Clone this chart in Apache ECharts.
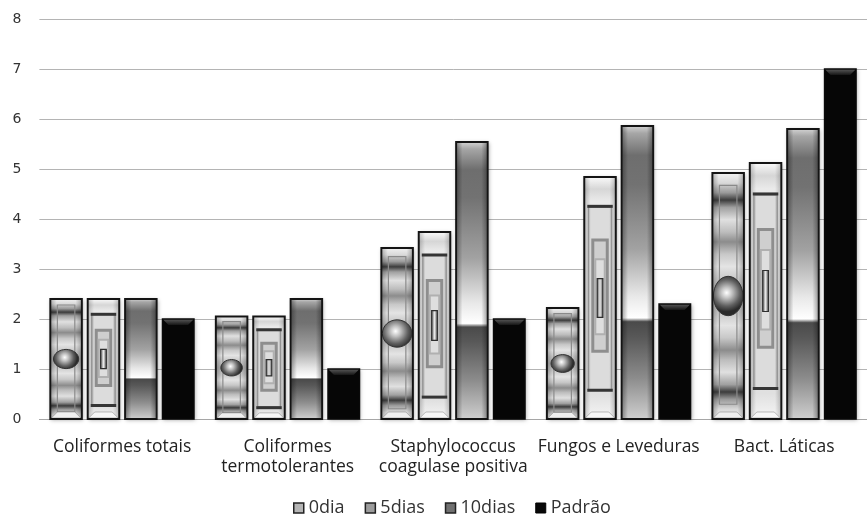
<!DOCTYPE html>
<html>
<head>
<meta charset="utf-8">
<script src="https://cdn.jsdelivr.net/npm/echarts@6/dist/echarts.min.js"></script>
<style>
  html, body { margin: 0; padding: 0; background: #ffffff; }
  #chart { width: 867px; height: 517px; }
</style>
</head>
<body>
<div id="chart"></div>
<script>
// Microbiological counts per group and storage time
const categories = [
  'Coliformes totais',
  'Coliformes\ntermotolerantes',
  'Staphylococcus\ncoagulase positiva',
  'Fungos e Leveduras',
  'Bact. Láticas'
];
const seriesNames = ['0dia', '5dias', '10dias', 'Padrão'];
const dia0   = [2.4, 2.05, 3.42, 2.22, 4.92];
const dias5  = [2.4, 2.05, 3.74, 4.84, 5.12];
const dias10 = [2.4, 2.4, 5.54, 5.86, 5.8];
const padrao = [2, 1, 2, 2.3, 7];
const yMin = 0, yMax = 8, yStep = 1;

const G = echarts.graphic;
const BAR_FRAC = 32 / 168.25;   // bar width as share of the category band
const STEP_FRAC = 38 / 168.25;  // distance between neighbouring bars
const SHADOW = { shadowBlur: 4, shadowColor: 'rgba(0,0,0,0.35)', shadowOffsetX: 1, shadowOffsetY: 1 };

function stops(list) {
  return list.map(function (s) { return { offset: s[0], color: s[1] }; });
}

function sideShade(x, y, w, h, a) {
  return {
    type: 'rect', shape: { x: x + 1, y: y + 1, width: w - 2, height: h - 2 },
    style: { fill: new G.LinearGradient(0, 0, 1, 0, stops([
      [0, 'rgba(0,0,0,' + a + ')'], [0.18, 'rgba(0,0,0,0)'],
      [0.82, 'rgba(0,0,0,0)'], [1, 'rgba(0,0,0,' + a + ')']
    ])) }, silent: true
  };
}

function outline(x, y, w, h) {
  return { type: 'rect', shape: { x: x, y: y, width: w, height: h },
    style: { fill: 'none', stroke: '#141414', lineWidth: 2 } };
}

function bottomBevel(x, y, w, h, fill) {
  const d = Math.min(6, h * 0.05);
  return { type: 'polygon', shape: { points: [
      [x + 1, y + h - 1], [x + w - 1, y + h - 1], [x + w - 1 - d, y + h - 1 - d], [x + 1 + d, y + h - 1 - d]
    ] }, style: { fill: fill, stroke: 'rgba(120,120,120,0.6)', lineWidth: 0.8 } };
}

// 0dia: concentric elliptical bands with a glossy oval in the middle
function paintDia0(x, y, w, h) {
  const fill = new G.LinearGradient(0, 0, 0, 1, stops([
    [0, '#f2f2f2'], [0.04, '#d9d9d9'], [0.08, '#9a9a9a'], [0.11, '#3c3c3c'], [0.14, '#a0a0a0'],
    [0.19, '#e0e0e0'], [0.24, '#bdbdbd'], [0.28, '#8c8c8c'], [0.33, '#c8c8c8'], [0.38, '#e4e4e4'],
    [0.44, '#c4c4c4'], [0.5, '#b4b4b4'], [0.56, '#c4c4c4'], [0.62, '#e4e4e4'], [0.67, '#c8c8c8'],
    [0.72, '#8c8c8c'], [0.76, '#bdbdbd'], [0.81, '#e0e0e0'], [0.86, '#a0a0a0'], [0.89, '#3c3c3c'],
    [0.92, '#9a9a9a'], [0.96, '#d9d9d9'], [1, '#f2f2f2']
  ]));
  const rx = Math.min(h * 0.105, w / 2 - 1);
  const ry = h * 0.08;
  return [
    { type: 'rect', shape: { x: x, y: y, width: w, height: h }, style: Object.assign({ fill: fill }, SHADOW) },
    sideShade(x, y, w, h, 0.22),
    { type: 'rect', shape: { x: x + 7, y: y + h * 0.05, width: w - 14, height: h * 0.89 },
      style: { fill: 'none', stroke: '#8a8a8a', lineWidth: 1.2 } },
    bottomBevel(x, y, w, h, '#efefef'),
    { type: 'ellipse', shape: { cx: x + w / 2, cy: y + h * 0.5, rx: rx, ry: ry },
      style: { fill: new G.RadialGradient(0.45, 0.42, 0.62, stops([
        [0, '#ffffff'], [0.3, '#c0c0c0'], [0.7, '#606060'], [1, '#2a2a2a']
      ])), stroke: '#333333', lineWidth: 1 } },
    outline(x, y, w, h)
  ];
}

// 5dias: nested rectangular frames around a small centre slot
function paint5dias(x, y, w, h) {
  const fill = new G.LinearGradient(0, 0, 0, 1, stops([
    [0, '#fafafa'], [0.05, '#d6d6d6'], [0.1, '#eaeaea'], [0.9, '#e0e0e0'], [1, '#f6f6f6']
  ]));
  const innerFill = new G.LinearGradient(0, 0, 1, 0, stops([
    [0, '#9a9a9a'], [0.12, '#dcdcdc'], [0.88, '#dcdcdc'], [1, '#9a9a9a']
  ]));
  const cw = Math.max(5, w * 0.18);
  const ch = h * 0.16;
  return [
    { type: 'rect', shape: { x: x, y: y, width: w, height: h }, style: Object.assign({ fill: fill }, SHADOW) },
    sideShade(x, y, w, h, 0.18),
    { type: 'rect', shape: { x: x + 4, y: y + h * 0.125, width: w - 8, height: h * 0.755 },
      style: { fill: innerFill, stroke: '#8a8a8a', lineWidth: 1 } },
    { type: 'rect', shape: { x: x + 3, y: y + h * 0.115, width: w - 6, height: 3 }, style: { fill: '#353535' } },
    { type: 'rect', shape: { x: x + 3, y: y + h * 0.875, width: w - 6, height: 3 }, style: { fill: '#353535' } },
    { type: 'rect', shape: { x: x + 8.5, y: y + h * 0.26, width: w - 17, height: h * 0.46 },
      style: { fill: '#cfcfcf', stroke: '#8e8e8e', lineWidth: 3 } },
    { type: 'rect', shape: { x: x + 11, y: y + h * 0.34, width: w - 22, height: h * 0.31 },
      style: { fill: '#dedede', stroke: '#b0b0b0', lineWidth: 2 } },
    { type: 'rect', shape: { x: x + w / 2 - cw / 2, y: y + h * 0.5 - ch / 2, width: cw, height: ch },
      style: { fill: new G.LinearGradient(0, 0, 1, 0, stops([
        [0, '#4a4a4a'], [0.5, '#e8e8e8'], [1, '#4a4a4a']
      ])), stroke: '#2e2e2e', lineWidth: 1.2 } },
    bottomBevel(x, y, w, h, '#f7f7f7'),
    outline(x, y, w, h)
  ];
}

// 10dias: vertical metallic ramp with a sharp break in the lower third
function paint10dias(x, y, w, h) {
  const fill = new G.LinearGradient(0, 0, 0, 1, stops([
    [0, '#d2d2d2'], [0.025, '#a6a6a6'], [0.1, '#6e6e6e'], [0.2, '#727272'], [0.42, '#a2a2a2'],
    [0.58, '#e8e8e8'], [0.655, '#ffffff'], [0.668, '#4a4a4a'], [0.72, '#585858'], [0.86, '#8c8c8c'],
    [1, '#cfcfcf']
  ]));
  return [
    { type: 'rect', shape: { x: x, y: y, width: w, height: h }, style: Object.assign({ fill: fill }, SHADOW) },
    sideShade(x, y, w, h, 0.3),
    outline(x, y, w, h)
  ];
}

// Padrão: solid black with a bevelled top edge
function paintPadrao(x, y, w, h) {
  const d = 6;
  return [
    { type: 'rect', shape: { x: x, y: y, width: w, height: h }, style: Object.assign({ fill: '#060606' }, SHADOW) },
    { type: 'polygon', shape: { points: [[x, y], [x + w, y], [x + w - d, y + d], [x + d, y + d]] },
      style: { fill: new G.LinearGradient(0, 0, 0, 1, stops([[0, '#5a5a5a'], [1, '#161616']])) } },
    { type: 'rect', shape: { x: x, y: y, width: w, height: h }, style: { fill: 'none', stroke: '#0a0a0a', lineWidth: 1.5 } }
  ];
}

const painters = [paintDia0, paint5dias, paint10dias, paintPadrao];

function makeRenderer(k) {
  return function (params, api) {
    const ci = api.value(0);
    const v = api.value(1);
    const base = api.coord([ci, 0]);
    const top = api.coord([ci, v]);
    const band = api.size([1, 0])[0];
    const w = band * BAR_FRAC;
    const cx = base[0] + (k - 1.5) * band * STEP_FRAC;
    const h = base[1] - top[1];
    return { type: 'group', children: painters[k](cx - w / 2, top[1], w, h) };
  };
}

const legendStyles = [
  { color: '#b5b5b5', borderColor: '#222', borderWidth: 1.5 },
  { color: '#9c9c9c', borderColor: '#222', borderWidth: 1.5 },
  { color: '#707070', borderColor: '#222', borderWidth: 1.5 },
  { color: '#080808', borderColor: '#000', borderWidth: 1 }
];

const valueSets = [dia0, dias5, dias10, padrao];
const textFont = "'Open Sans', sans-serif";

const chart = echarts.init(document.getElementById('chart'), null, { renderer: 'canvas' });
chart.setOption({
  animation: false,
  backgroundColor: '#ffffff',
  grid: { left: 39.4, top: 19, width: 841.25, height: 400 },
  legend: {
    left: 293, top: 499,
    itemWidth: 10, itemHeight: 10, itemGap: 20, padding: 0,
    icon: 'rect',
    textStyle: { fontFamily: textFont, fontSize: 18, color: '#333' },
    data: seriesNames.map(function (n, k) { return { name: n, itemStyle: legendStyles[k] }; })
  },
  xAxis: {
    type: 'category',
    data: categories,
    axisTick: { show: false },
    axisLine: { lineStyle: { color: '#a6a6a6', width: 1 } },
    axisLabel: { interval: 0, margin: 18, fontFamily: textFont, fontSize: 17.5, lineHeight: 20, color: '#222' }
  },
  yAxis: {
    type: 'value', min: yMin, max: yMax, interval: yStep,
    axisLine: { show: false }, axisTick: { show: false },
    axisLabel: { margin: 18, fontFamily: 'DejaVu Sans, Verdana, sans-serif', fontSize: 14, color: '#333' },
    splitLine: { lineStyle: { color: '#b4b4b4', width: 1 } }
  },
  series: valueSets.map(function (vals, k) {
    return {
      type: 'custom',
      name: seriesNames[k],
      renderItem: makeRenderer(k),
      itemStyle: { color: legendStyles[k].color },
      encode: { x: 0, y: 1 },
      clip: false,
      data: vals.map(function (v, i) { return [i, v]; })
    };
  })
});
</script>
</body>
</html>
